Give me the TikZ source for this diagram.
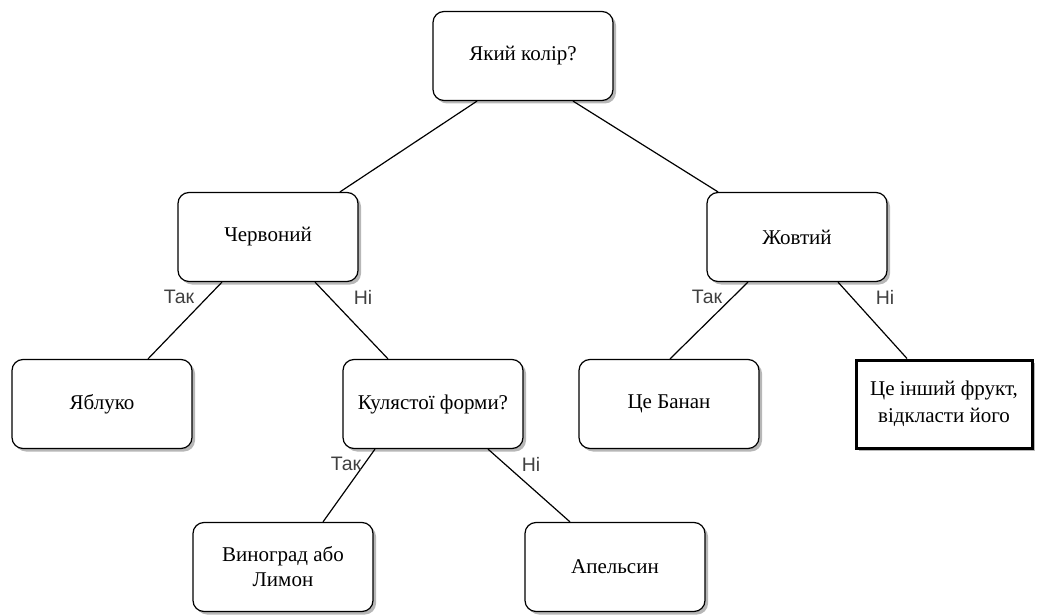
\documentclass[tikz,border=0pt]{standalone}
\usepackage{fontspec}
\setmainfont{Liberation Serif}
\newfontfamily\lblfont{Liberation Sans}
\usetikzlibrary{shadows,calc}
\begin{document}
\begin{tikzpicture}[x=1pt,y=-1pt,
  box/.style={draw=black,line width=1.2pt,rounded corners=11pt,fill=white,
    minimum width=180pt,minimum height=89pt,align=center,font=\fontsize{21}{25}\selectfont,
    drop shadow={shadow xshift=3pt,shadow yshift=-3pt,fill=black!40,opacity=0.7}},
  thickbox/.style={draw=black,line width=3pt,fill=white,
    minimum width=176pt,minimum height=88pt,align=center,font=\fontsize{21}{27}\selectfont,
    drop shadow={shadow xshift=3pt,shadow yshift=-3pt,fill=black!40,opacity=0.7}},
  edge/.style={draw=black,line width=1.2pt},
  lbl/.style={font=\lblfont\fontsize{19.5}{22}\selectfont,text=black!75,inner sep=0pt}]
\useasboundingbox (0,0) rectangle (1039,615);
\node[box] (root) at (523,56) {Який колір?};
\node[box] (red) at (268,237) {Червоний};
\node[box] (yel) at (797,237) {Жовтий};
\node[box] (apple) at (102,404) {Яблуко};
\node[box] (round) at (433,404) {Кулястої форми?};
\node[box] (banana) at (669,404) {Це Банан};
\node[thickbox] (other) at (944,404) {Це інший фрукт,\\відкласти його};
\node[box] (grape) at (283,567) {Виноград або\\Лимон};
\node[box] (orange) at (615,567) {Апельсин};

\draw[edge] ([xshift=-46pt]root.south) -- ([xshift=72pt]red.north);
\draw[edge] ([xshift=50pt]root.south) -- ([xshift=-79pt]yel.north);
\draw[edge] ([xshift=-46pt]red.south) -- ([xshift=46pt]apple.north);
\draw[edge] ([xshift=47pt]red.south) -- ([xshift=-45pt]round.north);
\draw[edge] ([xshift=-58pt]round.south) -- ([xshift=40pt]grape.north);
\draw[edge] ([xshift=55pt]round.south) -- ([xshift=-45pt]orange.north);
\draw[edge] ([xshift=-49pt]yel.south) -- ([xshift=1pt]banana.north);
\draw[edge] ([xshift=41pt]yel.south) -- ([xshift=-37pt]other.north);

\node[lbl] (l1) at (179,297) {Так};
\node[lbl] (l2) at (363,297) {Ні};
\node[lbl] (l3) at (707,297) {Так};
\node[lbl] (l4) at (885,297) {Ні};
\node[lbl] (l5) at (346,464) {Так};
\node[lbl] (l6) at (531,464) {Ні};
\end{tikzpicture}
\end{document}
